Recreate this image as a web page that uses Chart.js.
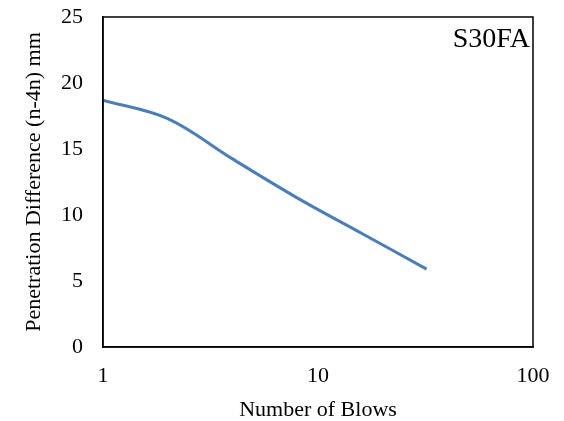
<!DOCTYPE html>
<html>
<head>
<meta charset="utf-8">
<script src="https://cdn.jsdelivr.net/npm/chart.js@4"></script>
<style>
  body { margin: 0; background: #fff; }
  #wrap { width: 564px; height: 421px; }
</style>
</head>
<body>
<div id="wrap"><canvas id="chart"></canvas></div>
<script>
// blows (log axis) and penetration difference (mm)
const blows = [1, 2, 4, 8, 16, 32];
const penDiff = [18.7, 17.3, 14.25, 11.3, 8.6, 5.9];
const xTickLabels = [1, 10, 100];
const yTicks = [0, 5, 10, 15, 20, 25];
const seriesName = "S30FA";

const serif = "'Liberation Serif', 'Times New Roman', serif";

const boxAndLabel = {
  id: "boxAndLabel",
  afterDraw(chart) {
    const { ctx, chartArea: a } = chart;
    ctx.save();
    ctx.strokeStyle = "#000";
    ctx.lineWidth = 1.5;
    ctx.strokeRect(a.left, a.top, a.right - a.left, a.bottom - a.top);
    ctx.fillStyle = "#000";
    ctx.font = "28px " + serif;
    ctx.textAlign = "right";
    ctx.textBaseline = "alphabetic";
    ctx.fillText(seriesName, a.right - 3, a.top + 30);
    ctx.restore();
  },
};

new Chart(document.getElementById("chart"), {
  type: "line",
  data: {
    datasets: [
      {
        label: seriesName,
        data: blows.map((b, i) => ({ x: b, y: penDiff[i] })),
        borderColor: "#4a7ebb",
        borderWidth: 3,
        pointRadius: 0,
        tension: 0.35,
        fill: false,
      },
    ],
  },
  options: {
    responsive: true,
    maintainAspectRatio: false,
    animation: false,
    layout: { padding: { left: 0, right: 31, top: 17, bottom: 0 } },
    plugins: { legend: { display: false }, tooltip: { enabled: false } },
    scales: {
      x: {
        type: "logarithmic",
        min: 1,
        max: 100,
        grid: { display: false },
        border: { display: true, color: "#000", width: 1.5 },
        ticks: {
          color: "#000",
          font: { family: serif, size: 22 },
          padding: 8,
          autoSkip: false,
          maxRotation: 0,
          callback: (v) => (xTickLabels.includes(v) ? String(v) : ""),
        },
        title: {
          display: true,
          text: "Number of Blows",
          color: "#000",
          font: { family: serif, size: 22, lineHeight: 1.0 },
          padding: { top: 0, bottom: 0 },
        },
        afterFit: (s) => { s.height = 74; s.paddingLeft = 0; s.paddingRight = 0; },
      },
      y: {
        min: 0,
        max: 25,
        grid: { display: false },
        border: { display: true, color: "#000", width: 1.5 },
        afterBuildTicks: (s) => { s.ticks = yTicks.map((v) => ({ value: v })); },
        ticks: {
          color: "#000",
          font: { family: serif, size: 22 },
          padding: 12,
        },
        title: {
          display: true,
          text: "Penetration Difference (n-4n) mm",
          color: "#000",
          font: { family: serif, size: 22 },
          padding: { top: 21, bottom: 0 },
        },
        afterFit: (s) => { s.width = 103; s.paddingTop = 0; s.paddingBottom = 0; },
      },
    },
  },
  plugins: [boxAndLabel],
});
</script>
</body>
</html>
